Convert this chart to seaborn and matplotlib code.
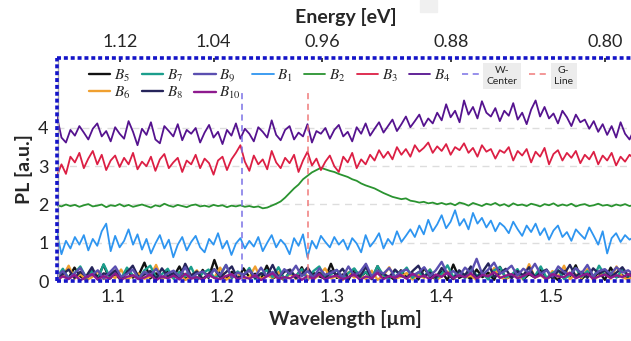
import numpy as np
import matplotlib
matplotlib.use("Agg")
import matplotlib.pyplot as plt
import seaborn as sns
from matplotlib.patches import Rectangle

# wavelength range of the spectra [um]
WL_MIN, WL_MAX = 1.049, 1.576

# PL traces, stacked with offsets
B4 = [4.30, 3.75, 3.62, 3.95, 3.80, 4.05, 3.88, 3.70, 3.98, 4.12, 3.78, 3.92, 3.65, 4.02, 3.85, 3.72, 4.18, 3.90, 3.55, 3.98,
      3.82, 4.15, 3.70, 3.60, 4.05, 3.92, 3.78, 4.10, 3.68, 3.95, 3.85, 4.00, 3.62, 3.88, 4.08, 3.75, 3.90, 3.58, 3.95, 3.80,
      4.12, 3.72, 3.98, 3.85, 3.65, 4.02, 3.90, 3.75, 4.20, 3.82, 3.68, 3.95, 4.05, 3.70, 3.88, 3.78, 4.10, 3.62, 3.92, 3.85,
      4.00, 3.72, 3.95, 4.08, 3.78, 3.90, 3.65, 4.02, 3.85, 4.12, 3.80, 3.98, 4.15, 3.88, 4.05, 4.22, 3.92, 4.10, 4.30, 4.02,
      4.18, 4.35, 4.05, 4.25, 4.12, 4.40, 4.20, 4.62, 4.28, 4.45, 4.15, 4.72, 4.35, 4.55, 4.25, 4.70, 4.40, 4.30, 4.52, 4.18,
      4.45, 4.32, 4.65, 4.22, 4.40, 4.10, 4.48, 4.72, 4.30, 4.55, 4.25, 4.38, 4.12, 4.45, 4.28, 4.05, 4.35, 4.15, 4.22, 3.98,
      4.18, 3.90, 4.10, 3.82, 4.05, 3.75, 4.15, 3.85, 3.70, 3.95]
B3 = [2.75, 3.05, 2.80, 3.25, 3.10, 3.35, 2.95, 3.20, 3.40, 3.05, 3.30, 2.90, 3.15, 3.28, 2.98, 3.22, 3.05, 3.35, 2.92, 3.12,
      3.00, 3.25, 2.88, 3.18, 3.32, 2.95, 3.10, 3.22, 2.85, 3.15, 3.05, 3.30, 2.95, 3.20, 3.08, 2.78, 3.15, 3.25, 2.90, 3.18,
      3.35, 3.55, 3.12, 2.88, 3.28, 3.05, 3.18, 2.92, 3.40, 3.10, 2.95, 3.22, 3.08, 3.30, 2.85, 3.15, 3.38, 3.02, 3.20, 2.90,
      3.12, 3.28, 3.00, 2.85, 3.25, 3.10, 3.35, 2.95, 3.18, 3.05, 3.30, 3.15, 3.42, 3.22, 3.38, 3.18, 3.50, 3.30, 3.45, 3.25,
      3.55, 3.38, 3.48, 3.62, 3.35, 3.52, 3.40, 3.58, 3.30, 3.50, 3.42, 3.60, 3.35, 3.48, 3.25, 3.55, 3.38, 3.45, 3.20, 3.42,
      3.35, 3.50, 3.15, 3.40, 3.28, 3.45, 3.10, 3.38, 3.25, 3.48, 3.05, 3.32, 3.42, 3.15, 3.35, 3.22, 3.40, 3.08, 3.30, 3.18,
      3.38, 3.05, 3.28, 3.15, 3.35, 3.02, 3.25, 3.12, 3.30, 3.20]
B2 = [1.98, 1.95, 2.00, 1.96, 1.99, 1.94, 1.98, 2.01, 1.95, 1.97, 2.00, 1.93, 1.98, 1.96, 2.01, 1.95, 1.99, 1.94, 1.97, 2.00,
      1.96, 1.92, 1.98, 1.95, 2.02, 1.97, 1.94, 1.99, 1.96, 1.93, 1.98, 2.00, 1.95, 1.97, 1.94, 1.99, 1.96, 1.98, 1.93, 1.97,
      1.95, 1.98, 1.94, 1.96, 1.93, 1.95, 1.90, 1.92, 1.97, 2.02, 2.08, 2.18, 2.30, 2.42, 2.52, 2.66, 2.75, 2.84, 2.90, 2.96,
      2.92, 2.88, 2.85, 2.80, 2.76, 2.72, 2.66, 2.62, 2.55, 2.50, 2.46, 2.42, 2.36, 2.30, 2.25, 2.20, 2.17, 2.14, 2.16, 2.10,
      2.08, 2.05, 2.07, 2.03, 2.05, 2.01, 2.04, 2.00, 2.03, 1.98, 2.05, 2.02, 1.97, 2.04, 2.00, 1.96, 2.02, 1.99, 2.04, 1.97,
      2.01, 1.95, 2.03, 1.98, 2.00, 1.96, 2.02, 1.99, 1.95, 2.01, 1.98, 2.03, 1.96, 2.00, 1.97, 2.02, 1.95, 1.99, 2.01, 1.96,
      1.98, 2.02, 1.97, 1.99, 1.95, 2.00, 1.97, 2.01, 1.96, 1.99]
B1 = [1.25, 0.70, 1.05, 0.85, 1.15, 0.95, 1.20, 0.80, 1.10, 0.92, 1.30, 1.50, 0.78, 1.18, 0.88, 1.05, 1.35, 0.95, 1.22, 0.82,
      1.10, 0.72, 0.98, 1.20, 0.85, 1.08, 0.62, 0.95, 1.15, 0.80, 1.02, 1.18, 0.88, 0.75, 1.10, 0.95, 1.25, 0.85, 1.05, 0.68,
      0.98, 1.12, 0.85, 1.05, 0.90, 1.15, 0.78, 1.00, 1.20, 0.88, 1.08, 0.95, 0.70, 1.12, 0.92, 1.22, 0.62, 1.05, 0.85, 1.18,
      1.02, 0.88, 1.15, 0.95, 1.08, 0.82, 1.12, 0.98, 0.75, 1.20, 0.90, 1.05, 1.25, 0.85, 1.10, 0.95, 1.30, 1.02, 1.18, 1.35,
      1.15, 1.45, 1.22, 1.60, 1.30, 1.48, 1.72, 1.38, 1.55, 1.85, 1.45, 1.62, 1.35, 1.78, 1.50, 1.65, 1.40, 1.58, 1.30, 1.52,
      1.42, 1.25, 1.55, 1.35, 1.18, 1.45, 1.28, 1.50, 1.20, 1.38, 1.08, 1.32, 1.45, 1.15, 1.28, 1.05, 1.35, 1.22, 1.10, 1.40,
      1.18, 0.95, 1.30, 0.72, 1.12, 1.25, 1.02, 1.20, 1.08, 1.15]

# bottom traces (no offset)
B5 = [0.05, 0.22, 0.08, 0.35, 0.12, 0.03, 0.28, 0.10, 0.42, 0.06, 0.18, 0.02, 0.30, 0.09, 0.15, 0.48, 0.07, 0.20, 0.04, 0.26,
      0.11, 0.38, 0.05, 0.16, 0.02, 0.29, 0.08, 0.55, 0.12, 0.06, 0.24, 0.03, 0.33, 0.10, 0.19, 0.05, 0.40, 0.07, 0.14, 0.02,
      0.27, 0.09, 0.36, 0.04, 0.21, 0.12, 0.06, 0.45, 0.08, 0.17, 0.03, 0.31, 0.10, 0.23, 0.05, 0.39, 0.07, 0.13, 0.02, 0.28,
      0.09, 0.20, 0.04, 0.34, 0.11, 0.06, 0.25, 0.02, 0.43, 0.08, 0.16, 0.05, 0.30, 0.10, 0.22, 0.03, 0.37, 0.07, 0.12, 0.26,
      0.04, 0.18, 0.09, 0.32, 0.06, 0.14, 0.02, 0.27, 0.11, 0.41, 0.05, 0.19, 0.08, 0.24, 0.03, 0.35, 0.10, 0.15, 0.06, 0.22]
B6 = [0.04, 0.12, 0.40, 0.06, 0.18, 0.02, 0.10, 0.25, 0.05, 0.15, 0.08, 0.30, 0.03, 0.14, 0.20, 0.06, 0.11, 0.42, 0.04, 0.16,
      0.07, 0.22, 0.02, 0.13, 0.28, 0.05, 0.17, 0.09, 0.35, 0.03, 0.12, 0.21, 0.06, 0.10, 0.38, 0.04, 0.15, 0.08, 0.24, 0.02,
      0.19, 0.06, 0.29, 0.11, 0.04, 0.16, 0.33, 0.07, 0.13, 0.02, 0.23, 0.09, 0.18, 0.05, 0.27, 0.03, 0.14, 0.36, 0.06, 0.11,
      0.21, 0.04, 0.17, 0.08, 0.30, 0.02, 0.12, 0.25, 0.05, 0.19, 0.09, 0.14, 0.03, 0.22, 0.07, 0.34, 0.10, 0.04, 0.18, 0.13,
      0.06, 0.44, 0.09, 0.15, 0.03, 0.26, 0.11, 0.40, 0.05, 0.17, 0.08, 0.31, 0.02, 0.14, 0.20, 0.06, 0.38, 0.10, 0.04, 0.16]
B7 = [0.10, 0.32, 0.06, 0.20, 0.38, 0.08, 0.26, 0.04, 0.44, 0.12, 0.22, 0.06, 0.35, 0.15, 0.05, 0.28, 0.40, 0.09, 0.18, 0.32,
      0.06, 0.24, 0.12, 0.37, 0.04, 0.20, 0.30, 0.08, 0.16, 0.42, 0.07, 0.25, 0.13, 0.34, 0.05, 0.19, 0.28, 0.10, 0.36, 0.06,
      0.22, 0.14, 0.31, 0.04, 0.26, 0.38, 0.09, 0.17, 0.29, 0.05, 0.21, 0.33, 0.11, 0.24, 0.07, 0.39, 0.15, 0.06, 0.27, 0.18,
      0.35, 0.08, 0.23, 0.12, 0.30, 0.05, 0.19, 0.41, 0.10, 0.25, 0.07, 0.33, 0.14, 0.20, 0.04, 0.28, 0.36, 0.09, 0.17, 0.31,
      0.06, 0.24, 0.13, 0.38, 0.08, 0.21, 0.29, 0.05, 0.16, 0.34, 0.11, 0.26, 0.07, 0.40, 0.15, 0.22, 0.09, 0.30, 0.12, 0.18]
B8 = [0.06, 0.18, 0.30, 0.08, 0.24, 0.12, 0.36, 0.05, 0.20, 0.15, 0.28, 0.04, 0.22, 0.40, 0.09, 0.17, 0.26, 0.06, 0.33, 0.12,
      0.21, 0.07, 0.45, 0.14, 0.25, 0.05, 0.19, 0.31, 0.10, 0.23, 0.38, 0.06, 0.16, 0.28, 0.08, 0.20, 0.13, 0.42, 0.09, 0.24,
      0.30, 0.07, 0.18, 0.35, 0.11, 0.22, 0.05, 0.27, 0.16, 0.32, 0.08, 0.21, 0.12, 0.37, 0.06, 0.25, 0.19, 0.10, 0.30, 0.14,
      0.07, 0.26, 0.40, 0.12, 0.22, 0.08, 0.34, 0.18, 0.05, 0.28, 0.15, 0.38, 0.09, 0.24, 0.46, 0.11, 0.20, 0.32, 0.07, 0.26,
      0.15, 0.36, 0.10, 0.22, 0.30, 0.06, 0.27, 0.18, 0.42, 0.12, 0.24, 0.08, 0.33, 0.19, 0.28, 0.10, 0.22, 0.36, 0.14, 0.25]
B9 = [0.12, 0.26, 0.08, 0.20, 0.34, 0.10, 0.16, 0.28, 0.06, 0.22, 0.38, 0.11, 0.18, 0.30, 0.07, 0.24, 0.14, 0.32, 0.09, 0.20,
      0.27, 0.12, 0.36, 0.08, 0.19, 0.25, 0.10, 0.30, 0.15, 0.42, 0.09, 0.22, 0.17, 0.28, 0.11, 0.35, 0.13, 0.24, 0.08, 0.31,
      0.18, 0.40, 0.12, 0.26, 0.09, 0.33, 0.16, 0.21, 0.29, 0.10, 0.38, 0.14, 0.24, 0.45, 0.12, 0.27, 0.19, 0.34, 0.11, 0.25,
      0.30, 0.15, 0.22, 0.36, 0.13, 0.28, 0.50, 0.18, 0.26, 0.12, 0.35, 0.21, 0.58, 0.16, 0.30, 0.48, 0.19, 0.27, 0.40, 0.14,
      0.32, 0.22, 0.45, 0.17, 0.28, 0.12, 0.38, 0.24, 0.15, 0.34, 0.20, 0.42, 0.13, 0.26, 0.31, 0.18, 0.36, 0.22, 0.28, 0.16]
B10 = [0.03, 0.12, 0.05, 0.16, 0.02, 0.10, 0.18, 0.04, 0.13, 0.06, 0.20, 0.03, 0.11, 0.15, 0.05, 0.09, 0.17, 0.02, 0.12, 0.07,
       0.14, 0.04, 0.19, 0.06, 0.10, 0.03, 0.16, 0.08, 0.05, 0.13, 0.18, 0.04, 0.11, 0.06, 0.15, 0.02, 0.12, 0.20, 0.05, 0.10,
       0.07, 0.16, 0.03, 0.13, 0.06, 0.18, 0.04, 0.11, 0.14, 0.05, 0.10, 0.17, 0.03, 0.12, 0.07, 0.21, 0.05, 0.13, 0.08, 0.16,
       0.06, 0.19, 0.10, 0.14, 0.04, 0.17, 0.11, 0.22, 0.07, 0.15, 0.10, 0.20, 0.06, 0.16, 0.12, 0.23, 0.08, 0.14, 0.18, 0.07,
       0.13, 0.20, 0.09, 0.16, 0.05, 0.18, 0.12, 0.10, 0.22, 0.07, 0.14, 0.19, 0.06, 0.12, 0.17, 0.08, 0.15, 0.10, 0.18, 0.09]

SERIES = [("$B_5$", B5, "#111111"), ("$B_6$", B6, "#f0a030"), ("$B_7$", B7, "#1b9e8c"),
          ("$B_8$", B8, "#25245a"), ("$B_9$", B9, "#5b4fb0"), ("$B_{10}$", B10, "#8e1a8e"),
          ("$B_1$", B1, "#2e95f0"), ("$B_2$", B2, "#2a9330"), ("$B_3$", B3, "#dc1f44"),
          ("$B_4$", B4, "#55138f")]

W_CENTER = 1.218
G_LINE = 1.278
ENERGY_TICKS = [1.12, 1.04, 0.96, 0.88, 0.80]

sns.set_theme(style="white")
plt.rcParams['font.family'] = ['Lato', 'DejaVu Sans']
plt.rcParams['mathtext.fontset'] = 'stix'

fig = plt.figure(figsize=(6.31, 3.41), dpi=100)
ax = fig.add_axes([57 / 631, 1 - 281 / 341, 577 / 631, 223 / 341])

for i, (lab, vals, col) in enumerate(SERIES):
    wl = np.linspace(WL_MIN, WL_MAX, len(vals))
    sns.lineplot(x=wl, y=vals, color=col, lw=1.7 if i < 6 else 1.3, label=lab, ax=ax)

ax.vlines(W_CENTER, 0, 5.0, colors="#7a72e6", linestyles=(0, (4, 3)), lw=1.1, label="W-\nCenter")
ax.vlines(G_LINE, 0, 5.0, colors="#f07a7a", linestyles=(0, (4, 3)), lw=1.1, label="G-\nLine")

ax.set_xlim(WL_MIN, WL_MAX)
ax.set_ylim(0, 5.83)
ax.set_xticks([1.1, 1.2, 1.3, 1.4, 1.5])
ax.set_yticks([0, 1, 2, 3, 4])
ax.yaxis.grid(True, color="#dddddd", ls=(0, (5, 4)), lw=1)
ax.tick_params(labelsize=13, direction="in", length=3, pad=6, colors="#222222")
ax.set_xlabel("Wavelength [µm]", fontsize=14, fontweight="bold", labelpad=3)
ax.set_ylabel("PL [a.u.]", fontsize=14, fontweight="bold", labelpad=4)

for s in ax.spines.values():
    s.set_color("#1414c8")
    s.set_linewidth(2.6)
    s.set_linestyle((0, (1.1, 0.8)))
    s.set_capstyle("butt")
ax.axvline(WL_MIN + 0.0012, color="#aaaaaa", lw=1)

secax = ax.secondary_xaxis("top", functions=(lambda x: 1.2398 / x, lambda e: 1.2398 / e))
secax.set_xticks(ENERGY_TICKS)
secax.set_xticklabels([f"{e:.2f}" for e in ENERGY_TICKS])
secax.tick_params(labelsize=13, direction="in", length=3, pad=6)
secax.spines["top"].set_visible(False)
secax.set_xlabel("Energy [eV]", fontsize=14, fontweight="bold", labelpad=8)

handles, labels = ax.get_legend_handles_labels()
leg = ax.legend(handles, labels, ncol=9, loc="upper left", bbox_to_anchor=(0.045, 0.99),
                frameon=False, fontsize=11, handlelength=1.4, handletextpad=0.25,
                columnspacing=0.72, labelspacing=0.05, borderaxespad=0)
for t in leg.get_texts():
    if "-" in t.get_text():
        t.set_fontsize(7.5)
        t.set_multialignment("center")
        t.set_bbox(dict(facecolor="#ececec", edgecolor="none", pad=2.5))

fig.patches.append(Rectangle((420 / 631, 1 - 12 / 341), 17 / 631, 12 / 341,
                             transform=fig.transFigure, color="#f0f0f0", zorder=0))

fig.savefig("out.png", dpi=100)
